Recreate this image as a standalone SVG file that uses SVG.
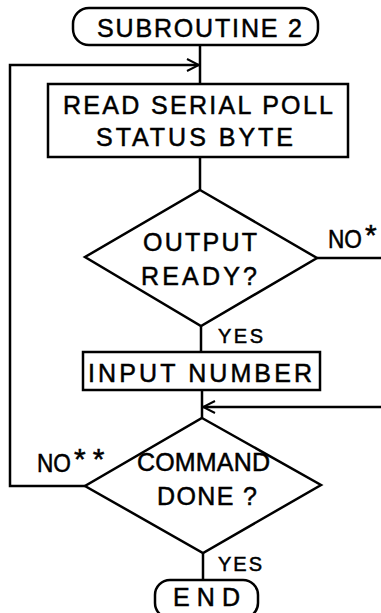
<svg xmlns="http://www.w3.org/2000/svg" width="381" height="613" viewBox="0 0 381 613">
<style>
.s{fill:none;stroke:#000;stroke-width:2.5;stroke-linejoin:miter}
.t{font-family:"Liberation Sans","DejaVu Sans",sans-serif;fill:#000;font-size:25px;stroke:#000;stroke-width:0.5}
.y{font-size:20px}
.k{font-size:30px}
</style>
<defs>
<marker id="arr" viewBox="0 0 14 14" refX="13" refY="7" markerWidth="14" markerHeight="14" markerUnits="userSpaceOnUse" orient="auto">
<path d="M1,1 L13,7 L1,13" fill="none" stroke="#000" stroke-width="2"/>
</marker>
</defs>
<rect width="381" height="613" fill="#fff"/>
<g id="connectors">
<line class="s" x1="200" y1="45" x2="200" y2="84"/>
<line class="s" x1="200" y1="157" x2="200" y2="190"/>
<line class="s" x1="201" y1="326" x2="201" y2="352"/>
<line class="s" x1="202" y1="390" x2="202" y2="418"/>
<line class="s" x1="203" y1="553" x2="203" y2="580"/>
<polyline class="s" points="85,486 10,486 10,65 199,65" marker-end="url(#arr)"/>
<line class="s" x1="317" y1="258" x2="381" y2="258"/>
<line class="s" x1="381" y1="407" x2="203" y2="407" marker-end="url(#arr)"/>
<text class="t" x="328" y="248" textLength="34" lengthAdjust="spacingAndGlyphs">NO</text>
<text class="t k" x="365" y="245">*</text>
<text class="t" x="37" y="472" textLength="34" lengthAdjust="spacingAndGlyphs">NO</text>
<text class="t k" x="74" y="469" letter-spacing="7">**</text>
<text class="t y" x="218" y="343" textLength="45">YES</text>
<text class="t y" x="218" y="571" textLength="44">YES</text>
</g>
<g id="start">
<rect class="s" x="73" y="8" width="245" height="37" rx="16"/>
<text class="t" x="97" y="37" textLength="205">SUBROUTINE 2</text>
</g>
<g id="read">
<rect class="s" x="48" y="84" width="300" height="73"/>
<text class="t" x="63" y="114" textLength="270" font-size="24">READ SERIAL POLL</text>
<text class="t" x="96" y="146" textLength="197" font-size="24">STATUS BYTE</text>
</g>
<g id="output-ready">
<polygon class="s" points="200,190 317,258 201,326 85,257"/>
<text class="t" x="143" y="251" textLength="114">OUTPUT</text>
<text class="t" x="141" y="285" textLength="116">READY?</text>
</g>
<g id="input">
<rect class="s" x="83" y="352" width="237" height="38"/>
<text class="t" x="88" y="382" textLength="224" font-size="27">INPUT NUMBER</text>
</g>
<g id="command-done">
<polygon class="s" points="202,418 321,485 203,553 85,486"/>
<text class="t" x="137" y="471" textLength="133">COMMAND</text>
<text class="t" x="157" y="505" textLength="100">DONE ?</text>
</g>
<g id="end">
<rect class="s" x="155" y="580" width="103" height="38" rx="15"/>
<text class="t" x="173" y="606" textLength="67">END</text>
</g>
</svg>
